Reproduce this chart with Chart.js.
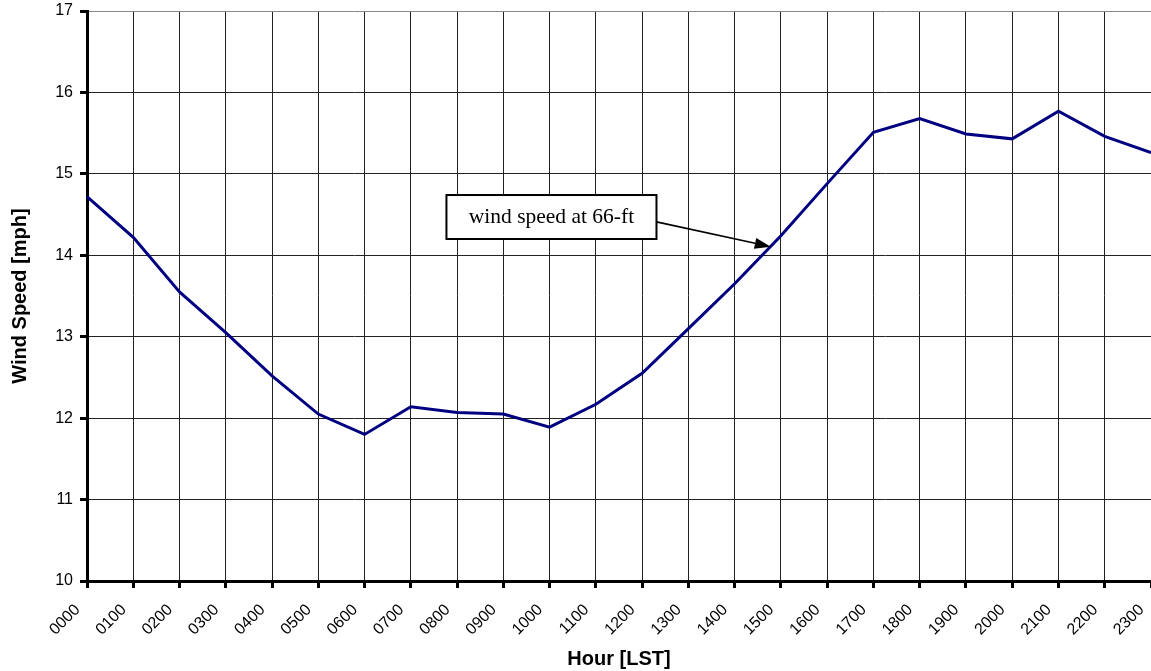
<!DOCTYPE html>
<html>
<head>
<meta charset="utf-8">
<script src="https://cdn.jsdelivr.net/npm/chart.js@4.4.0/dist/chart.umd.min.js"></script>
<style>
  html, body { margin: 0; padding: 0; background: #fff; }
  #wrap { width: 1151px; height: 671px; position: relative; }
</style>
</head>
<body>
<div id="wrap"><canvas id="windChart"></canvas></div>
<script>
// ── Data ─────────────────────────────────────────────────────────────────────
const hours = ['0000','0100','0200','0300','0400','0500','0600','0700','0800','0900','1000','1100',
               '1200','1300','1400','1500','1600','1700','1800','1900','2000','2100','2200','2300'];
const windSpeed = [14.72, 14.22, 13.55, 13.05, 12.52, 12.05, 11.80, 12.14, 12.07, 12.05, 11.89, 12.17,
                   12.55, 13.10, 13.65, 14.24, 14.88, 15.51, 15.68, 15.49, 15.43, 15.77, 15.46, 15.26];
const yMin = 10, yMax = 17, yStep = 1;

// callout: box corners (category index / value) and arrow tip
const calloutText = 'wind speed at 66-ft';
const calloutBox = { x0: 7.77, x1: 12.31, y0: 14.74, y1: 14.20 };
const calloutArrow = { from: [12.31, 14.41], to: [14.78, 14.105] };

// ── Callout plugin ───────────────────────────────────────────────────────────
const callout = {
  id: 'callout',
  afterDatasetsDraw(chart) {
    const { ctx, scales: { x, y } } = chart;
    const bx0 = x.getPixelForValue(calloutBox.x0), bx1 = x.getPixelForValue(calloutBox.x1);
    const by0 = y.getPixelForValue(calloutBox.y0), by1 = y.getPixelForValue(calloutBox.y1);
    ctx.save();
    // arrow line
    const ax0 = x.getPixelForValue(calloutArrow.from[0]), ay0 = y.getPixelForValue(calloutArrow.from[1]);
    const ax1 = x.getPixelForValue(calloutArrow.to[0]),   ay1 = y.getPixelForValue(calloutArrow.to[1]);
    const ang = Math.atan2(ay1 - ay0, ax1 - ax0);
    const headLen = 16, headW = 5.5;
    ctx.strokeStyle = '#000';
    ctx.lineWidth = 1.6;
    ctx.beginPath();
    ctx.moveTo(ax0, ay0);
    ctx.lineTo(ax1 - Math.cos(ang) * headLen, ay1 - Math.sin(ang) * headLen);
    ctx.stroke();
    ctx.fillStyle = '#000';
    ctx.beginPath();
    ctx.moveTo(ax1, ay1);
    ctx.lineTo(ax1 - Math.cos(ang) * headLen - Math.sin(ang) * headW, ay1 - Math.sin(ang) * headLen + Math.cos(ang) * headW);
    ctx.lineTo(ax1 - Math.cos(ang) * headLen + Math.sin(ang) * headW, ay1 - Math.sin(ang) * headLen - Math.cos(ang) * headW);
    ctx.closePath();
    ctx.fill();
    // box
    ctx.fillStyle = '#fff';
    ctx.fillRect(bx0, by0, bx1 - bx0, by1 - by0);
    ctx.lineWidth = 2;
    ctx.strokeRect(bx0, by0, bx1 - bx0, by1 - by0);
    // text
    ctx.fillStyle = '#000';
    ctx.font = '21.5px "Liberation Serif", "Times New Roman", serif';
    ctx.textAlign = 'center';
    ctx.textBaseline = 'middle';
    ctx.fillText(calloutText, (bx0 + bx1) / 2, (by0 + by1) / 2);
    ctx.restore();
  }
};

// ── Chart ────────────────────────────────────────────────────────────────────
Chart.defaults.font.family = '"Liberation Sans", Arial, sans-serif';
Chart.defaults.color = '#000';

new Chart(document.getElementById('windChart'), {
  type: 'line',
  data: {
    labels: hours,
    datasets: [{
      data: windSpeed,
      borderColor: '#000080',
      borderWidth: 3,
      pointRadius: 0,
      tension: 0,
      fill: false,
    }]
  },
  options: {
    responsive: true,
    maintainAspectRatio: false,
    animation: false,
    layout: { padding: { top: 11, right: 0, left: 0, bottom: 0 } },
    plugins: { legend: { display: false }, tooltip: { enabled: false } },
    scales: {
      x: {
        offset: false,
        grid: { color: '#222', lineWidth: 1, tickLength: 7, tickWidth: 3, tickColor: '#000' },
        border: { color: '#000', width: 3 },
        ticks: {
          font: { size: 16 }, minRotation: 45, maxRotation: 45, padding: 3, autoSkip: false,
          // trailing gap pushes the rotated label down-left of its tick, as in the original
          callback(v) { return this.getLabelForValue(v) + '   '; }
        },
        title: { display: true, text: 'Hour [LST]', font: { size: 20, weight: 'bold' }, padding: { top: 0, bottom: 0 } },
        afterFit(s) { s.height = 90; s.paddingLeft = 0; s.paddingRight = 0; },
      },
      y: {
        min: yMin, max: yMax,
        grid: {
          color: c => (c.tick && c.tick.value === yMax ? '#888' : '#222'),
          lineWidth: 1, tickLength: 7, tickWidth: 3, tickColor: '#000'
        },
        border: { color: '#000', width: 3 },
        ticks: { stepSize: yStep, font: { size: 16 }, padding: 7 },
        title: { display: true, text: 'Wind Speed [mph]', font: { size: 20, weight: 'bold' }, padding: { top: 8, bottom: 0 } },
        afterFit(s) { s.width = 87; s.paddingTop = 0; s.paddingBottom = 0; },
      }
    }
  },
  plugins: [callout]
});
</script>
</body>
</html>
